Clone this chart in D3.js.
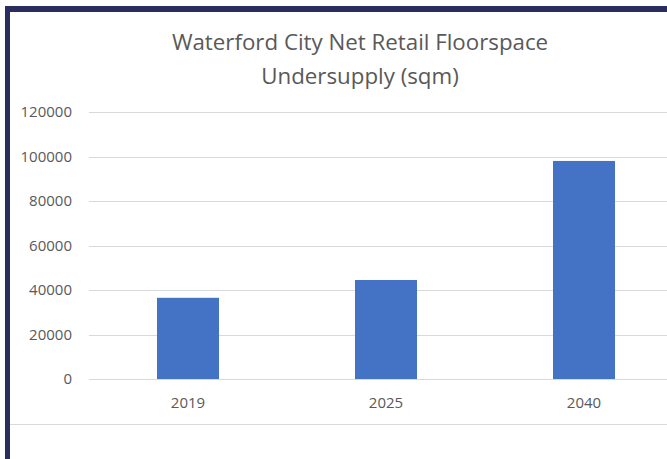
<!DOCTYPE html>
<html>
<head>
<meta charset="utf-8">
<script src="https://cdn.jsdelivr.net/npm/d3@7"></script>
<style>
  body { margin: 0; background: #fff; }
  text { font-family: "Open Sans", sans-serif; fill: #595959; }
</style>
</head>
<body>
<div id="chart"></div>
<script>
const years = ["2019", "2025", "2040"];
const undersupply = [36500, 44500, 98000];
const yTicks = [0, 20000, 40000, 60000, 80000, 100000, 120000];
const titleLines = ["Waterford City Net Retail Floorspace", "Undersupply (sqm)"];

const width = 667, height = 459;

const svg = d3.select("#chart").append("svg")
  .attr("width", width)
  .attr("height", height);

// dark frame on top and left (the chart is cropped on the other sides)
svg.append("rect").attr("x", 5).attr("y", 6).attr("width", width - 5).attr("height", 6).attr("fill", "#2b2d5f");
svg.append("rect").attr("x", 5).attr("y", 6).attr("width", 5).attr("height", height - 6).attr("fill", "#2b2d5f");

const x = d3.scaleBand()
  .domain(years)
  .range([89, 683])
  .paddingInner(0.687)
  .paddingOuter(0.3435);

const y = d3.scaleLinear()
  .domain([0, 120000])
  .range([379, 112]);

// gridlines
svg.append("g")
  .selectAll("line")
  .data(yTicks)
  .join("line")
    .attr("x1", 89)
    .attr("x2", width)
    .attr("y1", d => Math.round(y(d)) + 0.5)
    .attr("y2", d => Math.round(y(d)) + 0.5)
    .attr("stroke", "#d9d9d9")
    .attr("stroke-width", 1);

// y tick labels
svg.append("g")
  .selectAll("text")
  .data(yTicks)
  .join("text")
    .attr("x", 72)
    .attr("y", d => y(d))
    .attr("dy", "0.36em")
    .attr("text-anchor", "end")
    .attr("font-size", 15)
    .text(d => d);

// bars
svg.append("g")
  .selectAll("rect")
  .data(years)
  .join("rect")
    .attr("x", d => x(d))
    .attr("width", x.bandwidth())
    .attr("y", (d, i) => y(undersupply[i]))
    .attr("height", (d, i) => y(0) - y(undersupply[i]))
    .attr("fill", "#4472c4");

// x labels
svg.append("g")
  .selectAll("text")
  .data(years)
  .join("text")
    .attr("x", d => x(d) + x.bandwidth() / 2)
    .attr("y", 408)
    .attr("text-anchor", "middle")
    .attr("font-size", 15)
    .text(d => d);

// title
svg.append("g")
  .selectAll("text")
  .data(titleLines)
  .join("text")
    .attr("x", 360)
    .attr("y", (d, i) => 50 + i * 34)
    .attr("text-anchor", "middle")
    .attr("font-size", 22.3)
    .text(d => d);

// divider under the chart
svg.append("line")
  .attr("x1", 10).attr("x2", width)
  .attr("y1", 424.5).attr("y2", 424.5)
  .attr("stroke", "#d9d9d9");
</script>
</body>
</html>
